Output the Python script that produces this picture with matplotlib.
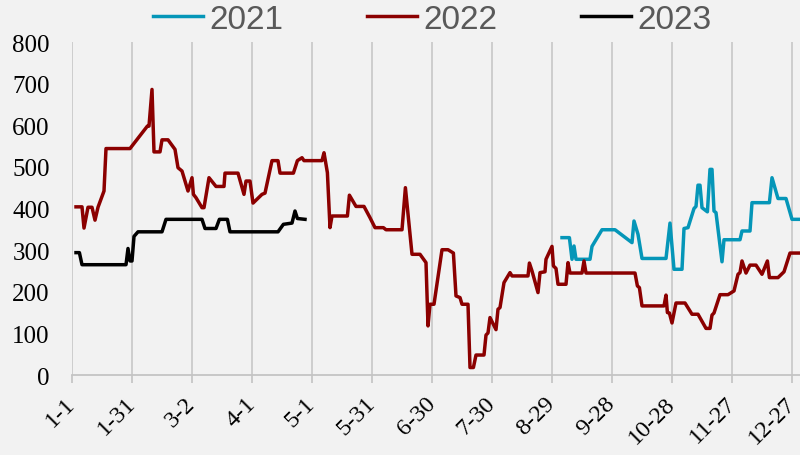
import matplotlib
matplotlib.use('Agg')
import matplotlib.pyplot as plt

# day of year (0 = 1-1) and values
days_2022 = [2, 5, 6, 8, 10, 11.5, 13, 16, 17, 29, 37.7, 38.5, 40, 41, 44, 45, 48, 51.5, 53, 55,
             58, 60, 60.7, 62, 65, 66, 68.5, 72, 76, 76.5, 83, 86, 87, 89, 90.5, 95, 96.5, 100,
             103, 104, 110.7, 112.7, 115, 116, 125, 126, 127.7, 129, 130, 137.7, 138.7, 142, 146,
             149, 151.5, 155.7, 157, 165, 166.7, 170, 174, 177, 178, 179, 181, 185, 188, 190.7,
             192, 194, 195, 198, 199, 200.7, 202, 206, 207, 208, 209, 212, 213, 214, 216, 219,
             220, 228, 228.7, 230, 233, 234, 236.5, 237, 240, 240.7, 242, 243, 247, 248, 249,
             255, 256, 257, 281.5, 282.7, 283.7, 285, 296, 297, 297.7, 298.7, 300, 302, 306.5,
             310, 313, 317, 319, 320, 321, 324, 328, 331, 333, 334, 335, 337, 339, 342, 345,
             347.7, 348.7, 353, 356, 359, 364]
vals_2022 = [404, 404, 353, 403, 403, 372, 403, 442, 544, 544, 598, 598, 686, 536, 536, 565, 565,
             542, 498, 490, 442, 474, 434, 426, 402, 402, 474, 453, 453, 485, 485, 434, 466, 466,
             413, 434, 437, 515, 515, 485, 485, 515, 522, 515, 515, 534, 486, 354, 382, 382, 432,
             405, 405, 378, 354, 354, 349, 349, 450, 290, 290, 270, 118, 170, 170, 301, 301, 293,
             190, 186, 170, 170, 18, 18, 48, 48, 96, 101, 138, 109, 158, 162, 222, 246, 238, 238,
             269, 250, 198, 246, 248, 278, 309, 262, 256, 218, 218, 270, 245, 245, 274, 245, 245,
             214, 210, 166, 166, 192, 150, 149, 125, 173, 173, 146, 146, 112, 112, 144, 149, 193,
             193, 202, 242, 246, 274, 245, 264, 264, 242, 274, 234, 234, 248, 293, 293]

days_2021 = [245, 248.7, 250, 251, 252, 259, 260, 265, 271.5, 280, 281, 283, 285, 297, 299, 301,
             305, 306, 308, 311, 312, 313, 314, 315, 317.7, 319, 320, 321, 322, 325, 326, 334,
             335, 339, 340, 348.7, 350, 353, 357, 360, 364]
vals_2021 = [330, 330, 278, 310, 278, 278, 309, 349, 349, 318, 370, 338, 280, 280, 365, 254, 254,
             352, 354, 400, 405, 456, 456, 402, 392, 494, 494, 394, 390, 272, 325, 325, 346, 346,
             414, 414, 474, 424, 424, 374, 374]

days_2023 = [2, 3.7, 5, 27, 28, 29, 30, 31, 33, 45, 47, 65, 66.5, 72, 73.7, 77.7, 79, 103,
             105.7, 110, 111.5, 112.7, 116.5]
vals_2023 = [294, 294, 265, 265, 304, 274, 274, 333, 344, 344, 374, 374, 352, 352, 374, 374, 344,
             344, 362, 365, 394, 376, 374]

tick_days = [0, 30, 60, 90, 120, 150, 180, 210, 240, 270, 300, 330, 360]
tick_labels = ['1-1', '1-31', '3-2', '4-1', '5-1', '5-31', '6-30', '7-30', '8-29', '9-28',
               '10-28', '11-27', '12-27']
y_ticks = [0, 100, 200, 300, 400, 500, 600, 700, 800]

bg = '#f2f2f2'
fig = plt.figure(figsize=(8, 4.56), dpi=100, facecolor=bg)
ax = fig.add_axes([0.09, 0.1754, 0.91, 0.7303], facecolor=bg)

ax.plot(days_2021, vals_2021, color='#0596b8', lw=2.5, label='2021')
ax.plot(days_2022, vals_2022, color='#8b0000', lw=2.5, label='2022')
ax.plot(days_2023, vals_2023, color='#000000', lw=2.5, label='2023')

ax.set_xlim(0, 364)
ax.set_ylim(0, 800)
ax.set_xticks(tick_days)
ax.set_xticklabels(tick_labels, rotation=45, ha='right', va='center', rotation_mode='anchor',
                   fontfamily='Liberation Serif', fontsize=17.5)
ax.set_yticks(y_ticks)
ax.set_yticklabels([str(v) for v in y_ticks], fontfamily='Liberation Serif', fontsize=18)
ax.tick_params(axis='y', length=0, pad=16)
ax.tick_params(axis='x', length=6, width=1.1, color='#bfbfbf', pad=12)

ax.grid(axis='x', color='#c4c4c4', lw=1.1)
ax.set_axisbelow(True)
for s in ['left', 'right', 'top']:
    ax.spines[s].set_visible(False)
ax.spines['bottom'].set_color('#c4c4c4')
ax.spines['bottom'].set_linewidth(1.3)

fig.legend(loc='center', bbox_to_anchor=(0.54, 0.956), ncol=3, frameon=False,
           prop={'family': 'Liberation Sans', 'size': 24}, labelcolor='#595959',
           handlelength=1.5, handletextpad=0.2, columnspacing=2.5, borderpad=0)

fig.savefig('out.png', dpi=100, facecolor=bg)
